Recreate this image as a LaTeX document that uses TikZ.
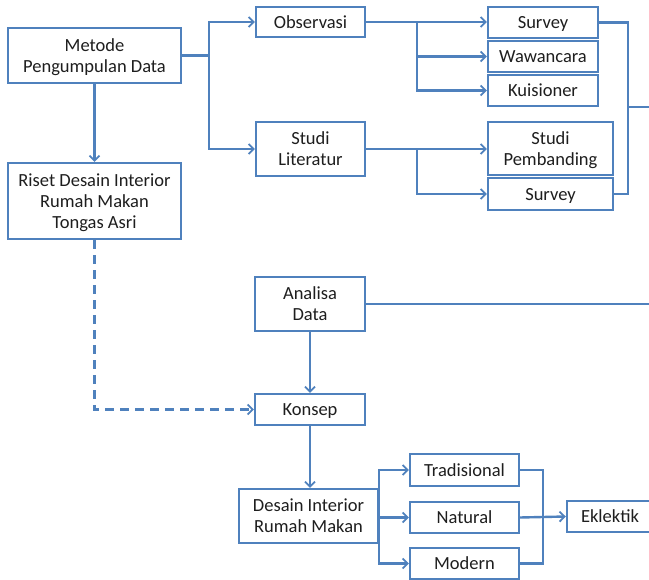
\documentclass[tikz,border=0pt]{standalone}
\usepackage{fontspec}
\setmainfont{Carlito}
\usetikzlibrary{arrows.meta}
\definecolor{lineblue}{RGB}{79,129,189}
\definecolor{txt}{RGB}{30,30,30}
\tikzset{
  box/.style={draw=lineblue, line width=2.4pt, fill=white, rectangle, inner sep=0pt,
    align=center, text=txt, text depth=0pt, font=\fontsize{18.5}{21}\selectfont},
  conn/.style={draw=lineblue, line width=2.4pt},
  arr/.style={conn, -{Straight Barb[length=5pt,width=10pt,line width=1.8pt]}},
}
\begin{document}
\begin{tikzpicture}[x=1pt,y=-1pt]
\useasboundingbox (0,0) rectangle (649,580);
% nodes
\node[box, minimum width=173, minimum height=55] (metode) at (94.5,55.5) {Metode\\Pengumpulan Data};
\node[box, minimum width=173, minimum height=76] (riset) at (94.5,201) {Riset Desain Interior\\Rumah Makan\\Tongas Asri};
\node[box, minimum width=109, minimum height=30] (obs) at (310.5,22) {Observasi};
\node[box, minimum width=109, minimum height=54] (studi) at (310.5,149) {Studi\\Literatur};
\node[box, minimum width=110, minimum height=31] (sv1) at (543,22.5) {Survey};
\node[box, minimum width=110, minimum height=31] (waw) at (543,56.5) {Wawancara};
\node[box, minimum width=110, minimum height=31] (kui) at (543,90.5) {Kuisioner};
\node[box, minimum width=125, minimum height=53] (pemb) at (550.5,148.5) {Studi\\Pembanding};
\node[box, minimum width=125, minimum height=32] (sv2) at (550.5,194) {Survey};
\node[box, minimum width=110, minimum height=54] (analisa) at (310,304) {Analisa\\Data};
\node[box, minimum width=110, minimum height=31] (konsep) at (310,409.5) {Konsep};
\node[box, minimum width=139, minimum height=54] (desain) at (308.5,516) {Desain Interior\\Rumah Makan};
\node[box, minimum width=109, minimum height=32] (trad) at (464.5,470) {Tradisional};
\node[box, minimum width=109, minimum height=31] (nat) at (464.5,517.5) {Natural};
\node[box, minimum width=109, minimum height=31] (mod) at (464.5,563.5) {Modern};
\node[box, minimum width=86, minimum height=31] (ekl) at (610,516.5) {Eklektik};
% junctions
\coordinate (j1) at (209,55.5);
\coordinate (j2) at (417,22);
\coordinate (j3) at (417,149);
\coordinate (c1) at (628,22.5);
\coordinate (c2) at (628,194);
\coordinate (c3) at (628,107);
\coordinate (e1) at (650.6,107);
\coordinate (e2) at (650.6,304);
\coordinate (j4) at (379,516);
\coordinate (k1) at (543,470);
\coordinate (k2) at (543,563.5);
\coordinate (k3) at (543,517);
% connectors
\draw[conn] (metode.east) -- (j1);
\draw[arr] (j1) |- (obs.west);
\draw[arr] (j1) |- (studi.west);
\draw[arr] (metode.south) -- (riset.north);
\draw[arr] (obs.east) -- (sv1.west |- obs.east);
\draw[arr] (j2) |- (waw.west);
\draw[arr] (j2) |- (kui.west);
\draw[arr] (studi.east) -- (pemb.west |- studi.east);
\draw[arr] (j3) |- (sv2.west);
\draw[conn] (sv1.east) -- (c1) -- (c2) -- (sv2.east);
\draw[conn] (c3) -- (e1) -- (e2) -- (analisa.east);
\draw[arr] (analisa.south) -- (konsep.north);
\draw[arr, dashed, dash pattern=on 9pt off 6pt] (riset.south) |- (konsep.west);
\draw[arr] (konsep.south) -- (konsep.south |- desain.north);
\draw[arr] (j4) |- (trad.west);
\draw[arr] (j4) |- (nat.west);
\draw[arr] (j4) |- (mod.west);
\draw[conn] (trad.east) -- (k1) -- (k2) -- (mod.east);
\draw[conn] (nat.east) -- (k3);
\draw[arr] (k3) -- (ekl.west);
\end{tikzpicture}
\end{document}
